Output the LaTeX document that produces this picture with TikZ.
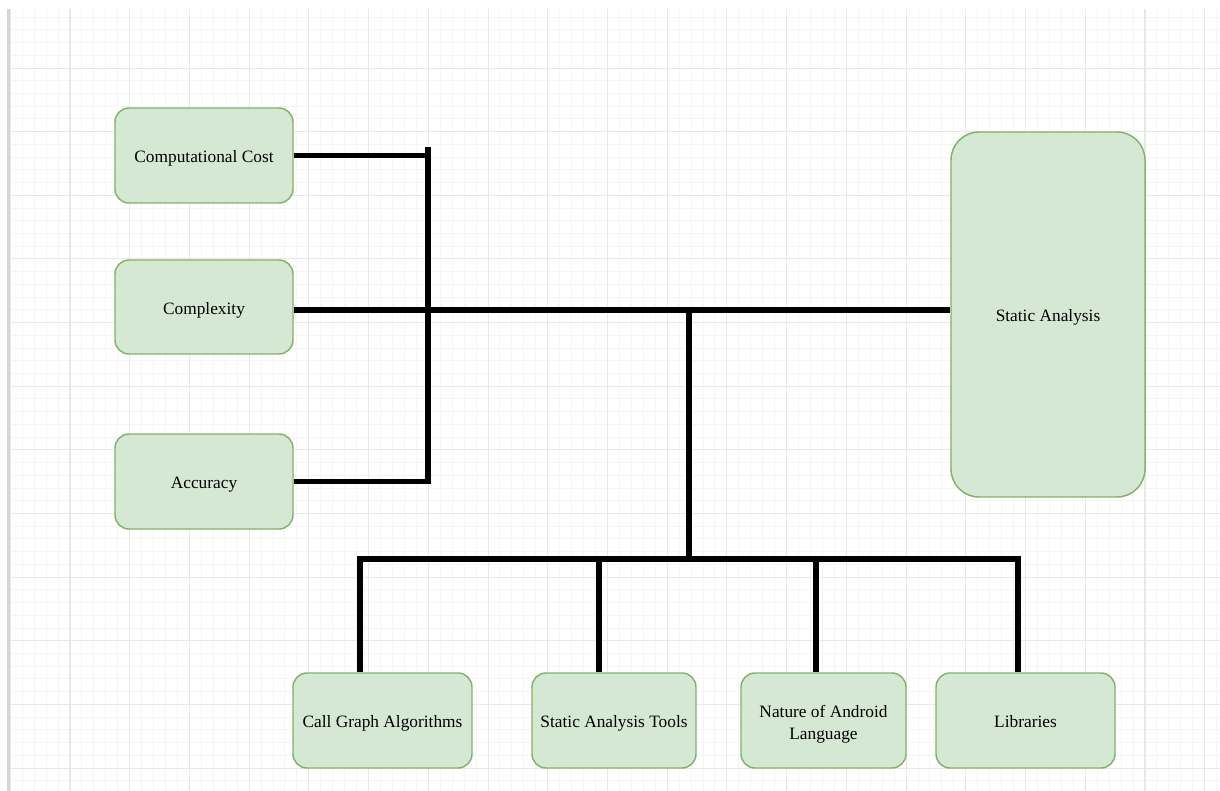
\documentclass[tikz,border=0pt]{standalone}
\usepackage{fontspec}
\setmainfont{Liberation Serif}
\definecolor{boxfill}{HTML}{D5E8D4}
\definecolor{boxline}{HTML}{82B366}
\definecolor{gridminor}{HTML}{F5F5F5}
\definecolor{gridmajor}{HTML}{E8E8E8}
\definecolor{rail}{HTML}{D6D6D6}
\begin{document}
\begin{tikzpicture}[x=0.75pt,y=-0.75pt,
  box/.style={draw=boxline,fill=boxfill,line width=1.1pt,rounded corners=10.5pt,
    align=center,font=\fontsize{13}{17}\selectfont,inner sep=2pt,text=black,
    execute at begin node={\rule[-3.6pt]{0pt}{17.8pt}}},
  wire/.style={line width=4.3pt,black,line join=miter},
  minorline/.style={gridminor,line width=0.75pt},
  majorline/.style={gridmajor,line width=0.8pt}]

% page
\useasboundingbox (0,0) rectangle (1220,791);
\fill[white] (0,0) rectangle (1220,791);

% background grid
\begin{scope}
  \clip (10,9) rectangle (1220,791);
  \foreach \i in {0,...,102} {
    \draw[minorline] ({10.28+11.944*\i},9) -- ({10.28+11.944*\i},791);
  }
  \foreach \j in {0,...,62} {
    \draw[minorline] (10,{4.4+12.728*\j}) -- (1220,{4.4+12.728*\j});
  }
  \foreach \i in {0,...,20} {
    \draw[majorline] ({10.28+59.72*\i},9) -- ({10.28+59.72*\i},791);
  }
  \foreach \j in {1,...,12} {
    \draw[majorline] (10,{4.4+63.64*\j}) -- (1220,{4.4+63.64*\j});
  }
\end{scope}
\fill[rail] (7,9) rectangle (10,791);

% factor boxes
\node[box,minimum width=133.5pt,minimum height=71.25pt] (cc) at (204,155.5) {Computational Cost};
\node[box,minimum width=133.5pt,minimum height=70.5pt]  (cx) at (204,307) {Complexity};
\node[box,minimum width=133.5pt,minimum height=71.25pt] (ac) at (204,481.5) {Accuracy};

% main box
\node[box,rounded corners=21pt,minimum width=145.5pt,minimum height=273.75pt] (sa) at (1048,314.5) {Static Analysis};

% bottom boxes
\node[box,minimum width=134.25pt,minimum height=71.25pt] (cg) at (382.5,720.5) {Call Graph Algorithms};
\node[box,minimum width=123pt,minimum height=71.25pt]    (st) at (614,720.5) {Static Analysis Tools};
\node[box,minimum width=123.75pt,minimum height=71.25pt] (na) at (823.5,720.5)
  {\begin{tabular}{@{}c@{}}\rule{0pt}{17.2pt}Nature of Android\\Language\end{tabular}};
\node[box,minimum width=134.25pt,minimum height=71.25pt] (lb) at (1025.5,720.5) {Libraries};

% junction points
\coordinate (ltop) at (428,147);
\coordinate (hub)  at (689,310);
\coordinate (bus)  at (689,559);
\coordinate (bl)   at (360,559);
\coordinate (br)   at (1018,559);
\coordinate (d2)   at (599,559);
\coordinate (d3)   at (816,559);

% left bracket
\draw[wire] (cc.east) -- (cc.east -| ltop);
\draw[wire] (ac.east) -| (ltop);

% main line
\draw[wire] (cx.east |- hub) -- (sa.west |- hub);
\draw[wire] (hub) -- (bus);

% bottom bus with drops
\draw[wire] (bl |- cg.north) -- (bl) -- (br) -- (br |- lb.north);
\draw[wire] (d2) -- (d2 |- st.north);
\draw[wire] (d3) -- (d3 |- na.north);
\end{tikzpicture}
\end{document}
